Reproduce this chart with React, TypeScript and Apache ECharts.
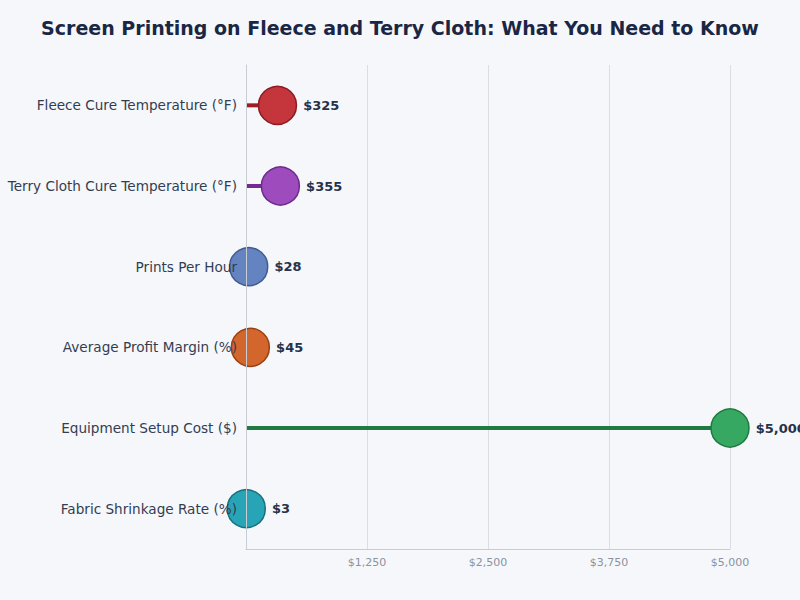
import { useEffect, useRef } from 'react'
import * as echarts from 'echarts'

const categories = [
  'Fleece Cure Temperature (°F)',
  'Terry Cloth Cure Temperature (°F)',
  'Prints Per Hour',
  'Average Profit Margin (%)',
  'Equipment Setup Cost ($)',
  'Fabric Shrinkage Rate (%)'
]
const values = [325, 355, 28, 45, 5000, 3]
const xTicks = [0, 1250, 2500, 3750, 5000]

const dotColors = ['#c5363c', '#9d4bbd', '#6483c1', '#d3662c', '#36a862', '#27a4b5']
const dotBorders = ['#8e1b21', '#6d2a8c', '#3f5b8f', '#9b4011', '#1f7a41', '#15727f']
const stemColors = ['#9e1d25', '#742a90', '#4a6aa5', '#b04f1b', '#217a44', '#1a8391']

const fmt = (v: number) => '$' + v.toLocaleString('en-US')

export default function App() {
  const ref = useRef<HTMLDivElement>(null)

  useEffect(() => {
    document.body.style.margin = '0'
    if (!ref.current) return
    const chart = echarts.init(ref.current, undefined, { renderer: 'svg' })
    const font = 'DejaVu Sans, sans-serif'

    chart.setOption({
      animation: false,
      backgroundColor: '#f5f7fb',
      textStyle: { fontFamily: font },
      title: {
        text: 'Screen Printing on Fleece and Terry Cloth: What You Need to Know',
        left: 'center',
        top: 13,
        textStyle: { fontSize: 19, fontWeight: 'bold', color: '#1a2744', fontFamily: font }
      },
      grid: { left: 246, right: 70, top: 65, bottom: 51 },
      xAxis: {
        type: 'value',
        min: xTicks[0],
        max: xTicks[xTicks.length - 1],
        interval: 1250,
        axisLine: { show: true, lineStyle: { color: '#c8ccd3' } },
        axisTick: { show: false },
        splitLine: { show: true, lineStyle: { color: '#dadde2' } },
        axisLabel: {
          color: '#8a93a1',
          fontSize: 11,
          margin: 8,
          formatter: (v: number) => (v === 0 ? '' : fmt(v))
        }
      },
      yAxis: {
        type: 'category',
        data: categories,
        inverse: true,
        z: 10,
        axisLine: { show: true, lineStyle: { color: '#c8ccd3' } },
        axisTick: { show: false },
        axisLabel: { color: '#333d50', fontSize: 13.6, margin: 9 }
      },
      series: [
        {
          type: 'bar',
          barWidth: 4,
          z: 2,
          data: values.map((v, i) => ({ value: v, itemStyle: { color: stemColors[i] } }))
        },
        {
          type: 'scatter',
          symbolSize: 38,
          z: 3,
          data: values.map((v, i) => ({
            value: [v, i],
            itemStyle: {
              color: dotColors[i],
              borderColor: dotBorders[i],
              borderWidth: 1.5,
              opacity: 1
            }
          })),
          label: {
            show: true,
            position: 'right',
            distance: 6,
            color: '#26324a',
            fontWeight: 'bold',
            fontSize: 13,
            formatter: (p: any) => fmt(p.value[0])
          }
        }
      ]
    })

    return () => chart.dispose()
  }, [])

  return <div ref={ref} style={{ width: 800, height: 600 }} />
}
